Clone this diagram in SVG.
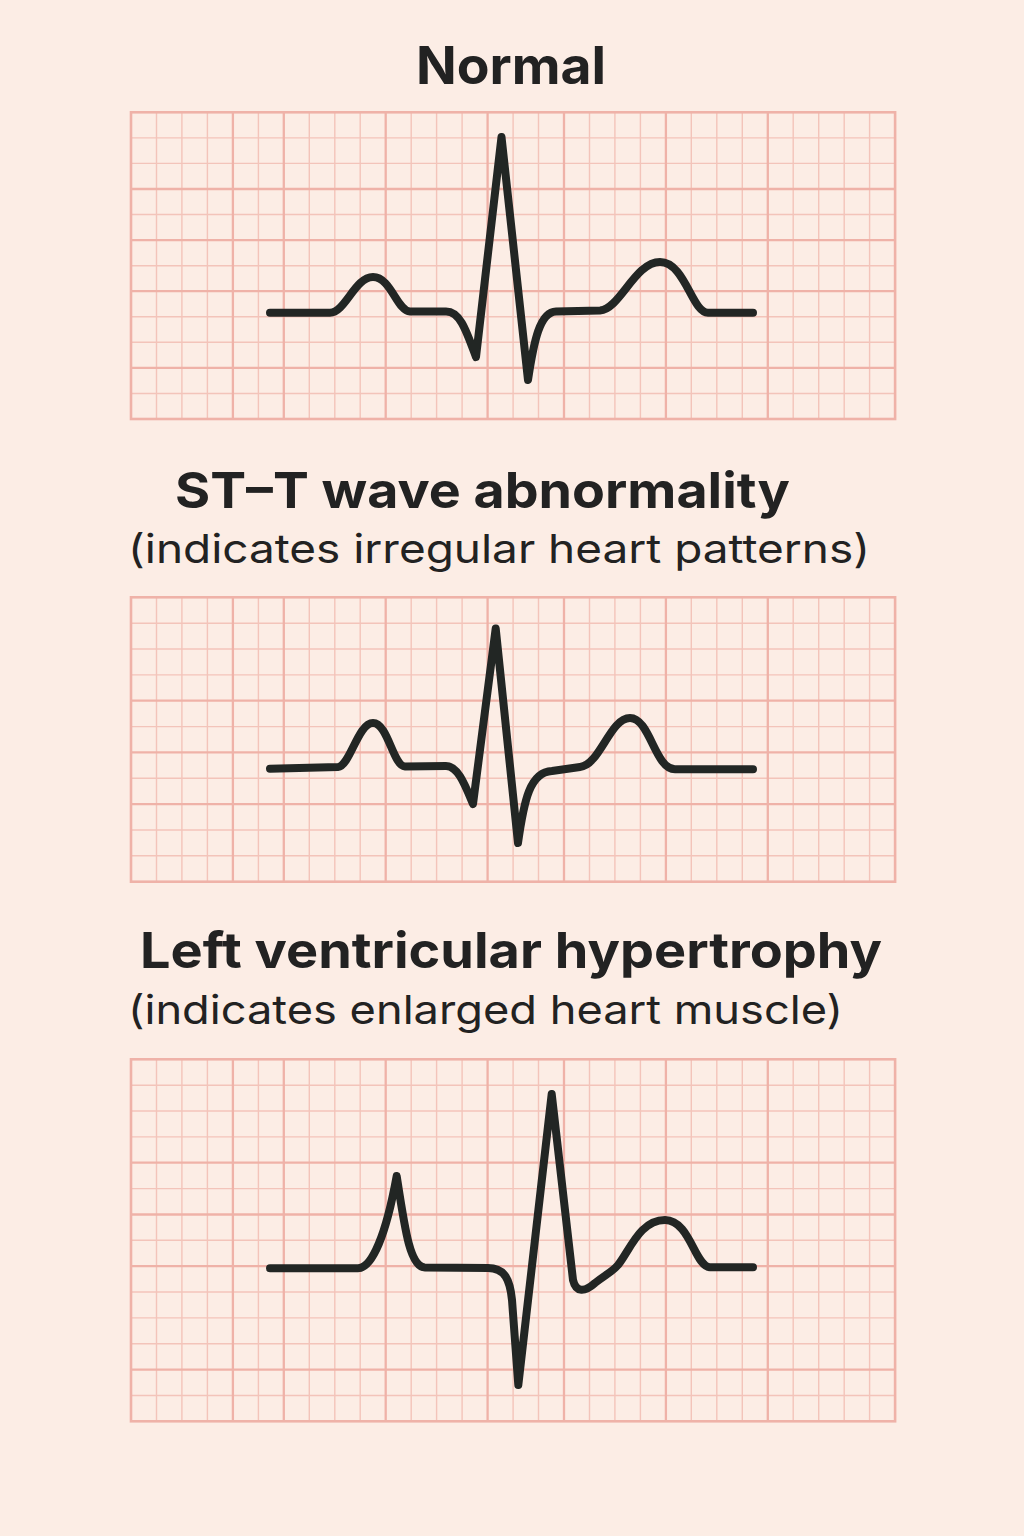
<svg xmlns="http://www.w3.org/2000/svg" width="1024" height="1536" viewBox="0 0 1024 1536">
<style>
.minor{fill:none;stroke:#F3C4BA;stroke-width:1.4}
.major{fill:none;stroke:#EFB2A8;stroke-width:2.3}
.border{fill:none;stroke:#EFB2A8;stroke-width:2.6}
.wave{fill:none;stroke:#222624;stroke-width:8;stroke-linecap:round;stroke-linejoin:round}
.title{font-family:Inter,"Liberation Sans",sans-serif;font-weight:700;fill:#222;}
.sub{font-family:Inter,"Liberation Sans",sans-serif;font-weight:400;fill:#222;}
</style>
<rect x="0" y="0" width="1024" height="1536" fill="#FCEDE5"/>

<text class="title" x="511" y="84" font-size="52" textLength="190" lengthAdjust="spacingAndGlyphs" text-anchor="middle">Normal</text>

<g id="panel-normal">
<path class="minor" d="M156.5,112.3V419M181.9,112.3V419M207.4,112.3V419M258.4,112.3V419M309.3,112.3V419M334.8,112.3V419M360.2,112.3V419M411.2,112.3V419M436.6,112.3V419M462.1,112.3V419M513.1,112.3V419M538.5,112.3V419M589.5,112.3V419M614.9,112.3V419M640.4,112.3V419M691.3,112.3V419M716.8,112.3V419M742.3,112.3V419M793.2,112.3V419M818.7,112.3V419M844.2,112.3V419M869.6,112.3V419M131,137.9H895.1M131,163.4H895.1M131,214.5H895.1M131,265.7H895.1M131,316.8H895.1M131,342.3H895.1M131,393.5H895.1"/>
<path class="major" d="M232.9,112.3V419M283.8,112.3V419M385.7,112.3V419M487.6,112.3V419M564,112.3V419M665.9,112.3V419M767.8,112.3V419M131,189H895.1M131,240.1H895.1M131,291.2H895.1M131,367.9H895.1"/>
<rect class="border" x="131" y="112.3" width="764.1" height="306.7"/>
<path class="wave" d="M270,312.7 L330,312.7 C345,312.7 355,277 373,277 C391,277 397,311 410,311.5 L446,311.5 C460,311.5 466,330 476,357 L501.5,137 L528,380 C534,340 540,312 556,311.5 L600,310.5 C620,309 635,262 660,262 C685,262 692,312.7 708,312.7 L753,312.7"/>
</g>

<text class="title" x="175" y="508" font-size="50" textLength="615" lengthAdjust="spacingAndGlyphs">ST–T wave abnormality</text>
<text class="sub" x="128" y="563" font-size="40" textLength="742" lengthAdjust="spacingAndGlyphs">(indicates irregular heart patterns)</text>

<g id="panel-stt">
<path class="minor" d="M156.5,597.3V881.7M181.9,597.3V881.7M207.4,597.3V881.7M258.4,597.3V881.7M309.3,597.3V881.7M334.8,597.3V881.7M360.2,597.3V881.7M411.2,597.3V881.7M436.6,597.3V881.7M462.1,597.3V881.7M513.1,597.3V881.7M538.5,597.3V881.7M589.5,597.3V881.7M614.9,597.3V881.7M640.4,597.3V881.7M691.3,597.3V881.7M716.8,597.3V881.7M742.3,597.3V881.7M793.2,597.3V881.7M818.7,597.3V881.7M844.2,597.3V881.7M869.6,597.3V881.7M131,623.2H895.1M131,649H895.1M131,674.9H895.1M131,726.6H895.1M131,778.3H895.1M131,830H895.1M131,855.8H895.1"/>
<path class="major" d="M232.9,597.3V881.7M283.8,597.3V881.7M385.7,597.3V881.7M487.6,597.3V881.7M564,597.3V881.7M665.9,597.3V881.7M767.8,597.3V881.7M131,700.7H895.1M131,752.4H895.1M131,804.1H895.1"/>
<rect class="border" x="131" y="597.3" width="764.1" height="284.4"/>
<path class="wave" d="M270,768.7 L338,767 C350,766 358,723 373,723 C388,723 393,766 405,766.5 L446,766 C458,766 465,785 473,804 L495.7,628.5 L518,843 C524,800 530,772 552,771 L580,767 C600,765 610,718 630,718 C650,718 655,769.3 675,769.3 L753,769.3"/>
</g>

<text class="title" x="140" y="968" font-size="50" textLength="742" lengthAdjust="spacingAndGlyphs">Left ventricular hypertrophy</text>
<text class="sub" x="128" y="1024" font-size="40" textLength="715" lengthAdjust="spacingAndGlyphs">(indicates enlarged heart muscle)</text>

<g id="panel-lvh">
<path class="minor" d="M156.5,1059.3V1421.3M181.9,1059.3V1421.3M207.4,1059.3V1421.3M258.4,1059.3V1421.3M309.3,1059.3V1421.3M334.8,1059.3V1421.3M360.2,1059.3V1421.3M411.2,1059.3V1421.3M436.6,1059.3V1421.3M462.1,1059.3V1421.3M513.1,1059.3V1421.3M538.5,1059.3V1421.3M589.5,1059.3V1421.3M614.9,1059.3V1421.3M640.4,1059.3V1421.3M691.3,1059.3V1421.3M716.8,1059.3V1421.3M742.3,1059.3V1421.3M793.2,1059.3V1421.3M818.7,1059.3V1421.3M844.2,1059.3V1421.3M869.6,1059.3V1421.3M131,1085.2H895.1M131,1111H895.1M131,1136.9H895.1M131,1188.6H895.1M131,1240.3H895.1M131,1292H895.1M131,1317.9H895.1M131,1343.8H895.1M131,1395.5H895.1"/>
<path class="major" d="M232.9,1059.3V1421.3M283.8,1059.3V1421.3M385.7,1059.3V1421.3M487.6,1059.3V1421.3M564,1059.3V1421.3M665.9,1059.3V1421.3M767.8,1059.3V1421.3M131,1162.7H895.1M131,1214.5H895.1M131,1266.2H895.1M131,1369.6H895.1"/>
<rect class="border" x="131" y="1059.3" width="764.1" height="362"/>
<path class="wave" d="M270,1268.3 L358,1268.3 C372,1268 386,1235 396.7,1176 C405,1230 410,1267 425,1267.5 L488,1268 C505,1268 510,1280 512,1300 L518.3,1385 L551.7,1094 L573,1280 C576,1293 585,1292 595,1283 C605,1275 612,1272 618,1265 C630,1250 640,1220 665,1220 C690,1220 695,1267 710,1267.3 L753,1267.3"/>
</g>
</svg>
